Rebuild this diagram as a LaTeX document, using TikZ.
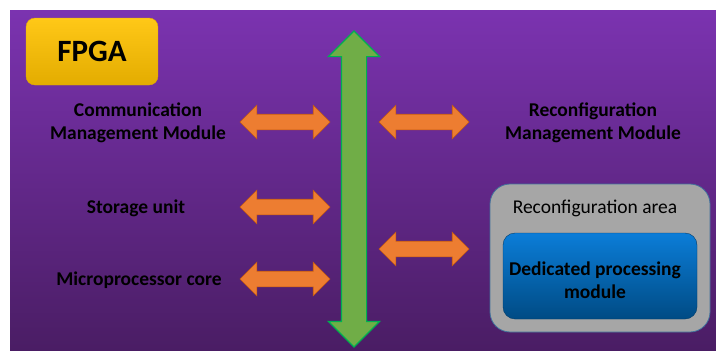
\documentclass[tikz,border=0pt]{standalone}
\usepackage{fontspec}
\setmainfont{Carlito}
\usetikzlibrary{positioning,
        shapes.arrows}
\usepackage{xcolor}

\definecolor{bgtop}{HTML}{7B33B0}
\definecolor{bgbot}{HTML}{4A1D64}
\definecolor{goldtop}{HTML}{FFC817}
\definecolor{goldbot}{HTML}{E3AC00}
\definecolor{busfill}{HTML}{70AD47}
\definecolor{busline}{HTML}{00B050}
\definecolor{linkfill}{HTML}{ED7D31}
\definecolor{linkline}{HTML}{C55A11}
\definecolor{areafill}{HTML}{A6A6A6}
\definecolor{arealine}{HTML}{41719C}
\definecolor{dpmtop}{HTML}{0B7DD8}
\definecolor{dpmbot}{HTML}{004B84}

\begin{document}
\begin{tikzpicture}[x=1pt,y=-1pt,
    blocktext/.style={align=center,text=black,font=\bfseries\fontsize{19.5}{23}\selectfont},
    linkarrow/.style={double arrow,draw=linkline,fill=linkfill,line width=0.6pt,
        text height=7.5pt,text depth=7.5pt,minimum height=90pt,
        double arrow head extend=9pt,inner sep=0pt}]
    \useasboundingbox (0,0) rectangle (716,351);
    \shade [top color=bgtop,bottom color=bgbot] (10,10) rectangle (716,351);

    \node [rounded corners=9pt,top color=goldtop,bottom color=goldbot,draw=goldbot,
        minimum width=132pt,minimum height=67pt,
        font=\bfseries\fontsize{31}{31}\selectfont] (fpga) at (92,51.5) {FPGA};

    % bus in the middle
    \node [double arrow,rotate=90,fill=busfill,draw=busline,line width=1.2pt,
        text height=12pt,text depth=12pt,minimum height=316pt,
        double arrow head extend=13pt,inner sep=0pt] (bus) at (354,189) {};

    \node [blocktext] (comm) at (138,122.5) {Communication\\Management Module};
    \node [blocktext] (storage) at (136,208) {Storage unit};
    \node [blocktext] (cpu) at (139,280) {Microprocessor core};
    \node [blocktext] (reconf) at (593,122.5) {Reconfiguration\\Management Module};

    \node [linkarrow] (commlink) at (285,122) {};
    \node [linkarrow] (storagelink) at (285,207) {};
    \node [linkarrow] (cpulink) at (285,279) {};
    \node [linkarrow] (reconflink) at (424,122) {};
    \node [linkarrow] (arealink) at (424,249) {};

    % reconfigurable region
    \node [rounded corners=20pt,fill=areafill,draw=arealine,line width=0.8pt,
        minimum width=220pt,minimum height=148pt] (area) at (600,258) {};
    \node [font=\fontsize{19.5}{23}\selectfont,text=black] (areatitle) at (595,208) {Reconfiguration area};
    \node [rounded corners=12pt,top color=dpmtop,bottom color=dpmbot,draw=dpmbot!80!black,
        minimum width=194pt,minimum height=86pt] (dpm) at (600,276) {};
    \node [blocktext] (dpmtext) at (595,280.5) {Dedicated processing\\module};
\end{tikzpicture}
\end{document}
